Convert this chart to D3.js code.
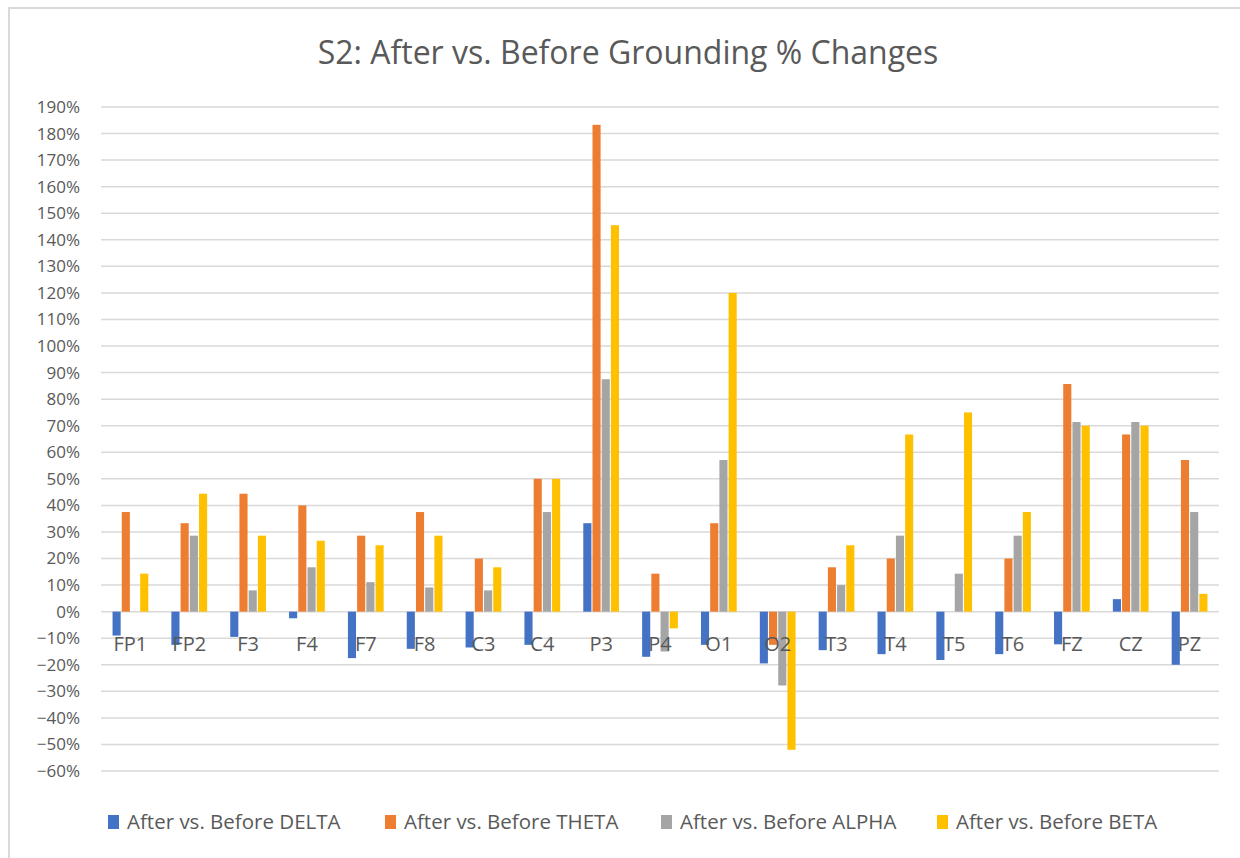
<!DOCTYPE html>
<html>
<head>
<meta charset="utf-8">
<script src="https://cdn.jsdelivr.net/npm/d3@7"></script>
<style>
  body { margin: 0; background: #fff; }
  text { font-family: "Open Sans", "Noto Sans", sans-serif; fill: #595959; }
</style>
</head>
<body>
<div id="chart"></div>
<script>
// channels (x categories)
const channels = ["FP1","FP2","F3","F4","F7","F8","C3","C4","P3","P4","O1","O2","T3","T4","T5","T6","FZ","CZ","PZ"];
// series names
const seriesNames = ["After vs. Before DELTA","After vs. Before THETA","After vs. Before ALPHA","After vs. Before BETA"];
// values per series, in channel order
const delta = [-0.09,-0.125,-0.095,-0.025,-0.175,-0.14,-0.135,-0.125,0.333,-0.17,-0.125,-0.195,-0.145,-0.16,-0.182,-0.16,-0.123,0.047,-0.20];
const theta = [0.375,0.333,0.444,0.40,0.286,0.375,0.20,0.50,1.833,0.143,0.333,-0.125,0.167,0.20,0,0.20,0.857,0.667,0.571];
const alpha = [0,0.286,0.08,0.167,0.111,0.091,0.08,0.375,0.875,-0.15,0.571,-0.278,0.10,0.286,0.143,0.286,0.714,0.714,0.375];
const beta  = [0.143,0.444,0.286,0.267,0.25,0.286,0.167,0.50,1.455,-0.063,1.20,-0.52,0.25,0.667,0.75,0.375,0.70,0.70,0.067];
const yTicks = [1.9,1.8,1.7,1.6,1.5,1.4,1.3,1.2,1.1,1.0,0.9,0.8,0.7,0.6,0.5,0.4,0.3,0.2,0.1,0,-0.1,-0.2,-0.3,-0.4,-0.5,-0.6];
const colors = ["#4472C4","#ED7D31","#A5A5A5","#FFC000"];

const W = 1240, H = 858;
const m = {l: 101, r: 21, t: 107, b: 87};

const svg = d3.select("#chart").append("svg")
    .attr("width", W).attr("height", H);

// chart border (only left and top edges are inside the picture)
svg.append("path")
    .attr("d", `M9,${H + 2} L9,8 L${W + 2},8`)
    .attr("fill", "none").attr("stroke", "#d9d9d9").attr("stroke-width", 2);

// title
svg.append("text")
    .attr("x", 628).attr("y", 64)
    .attr("text-anchor", "middle")
    .style("font-size", "32px")
    .text("S2: After vs. Before Grounding % Changes");

const x = d3.scaleBand().domain(channels)
    .range([m.l, W - m.r]).paddingInner(0.355).paddingOuter(0.1775);
const xs = d3.scaleBand().domain(d3.range(4))
    .range([0, x.bandwidth()]).padding(0.12);
const y = d3.scaleLinear().domain([-0.6, 1.9]).range([H - m.b, m.t]);

// gridlines
svg.append("g").selectAll("line").data(yTicks).enter().append("line")
    .attr("x1", m.l).attr("x2", W - m.r)
    .attr("y1", d => y(d)).attr("y2", d => y(d))
    .attr("stroke", "#d9d9d9").attr("stroke-width", 1.5);

// y axis labels
const yAxis = svg.append("g")
    .attr("transform", `translate(${m.l - 21},0)`)
    .call(d3.axisLeft(y).tickValues(yTicks).tickSize(0).tickFormat(d3.format(".0%")));
yAxis.select(".domain").remove();
yAxis.selectAll("text")
    .attr("x", 0).style("font-size", "17px").style("font-family", "\"Open Sans\", sans-serif").attr("fill", "#595959");

// bars
const seriesData = [delta, theta, alpha, beta];
const groups = svg.append("g").selectAll("g").data(channels).enter().append("g")
    .attr("transform", d => `translate(${x(d)},0)`);

groups.selectAll("rect")
    .data((c, i) => seriesData.map((s, k) => ({k: k, v: s[i]})))
    .enter().append("rect")
    .attr("x", d => xs(d.k))
    .attr("width", xs.bandwidth())
    .attr("y", d => y(Math.max(0, d.v)))
    .attr("height", d => Math.abs(y(d.v) - y(0)))
    .attr("fill", d => colors[d.k]);

// category labels sit just under the zero line
svg.append("g").selectAll("text").data(channels).enter().append("text")
    .attr("x", d => x(d) + x.bandwidth() / 2)
    .attr("y", y(0) + 39)
    .attr("text-anchor", "middle")
    .style("font-size", "20px")
    .text(d => d);

// legend
const legX = [108, 385, 661, 937];
const leg = svg.append("g").selectAll("g").data(seriesNames).enter().append("g")
    .attr("transform", (d, i) => `translate(${legX[i]},${H - 29})`);
leg.append("rect").attr("x", 0).attr("y", -14).attr("width", 11).attr("height", 14)
    .attr("fill", (d, i) => colors[i]);
leg.append("text").attr("x", 19).attr("y", 0)
    .style("font-size", "20.5px")
    .text(d => d);
</script>
</body>
</html>
